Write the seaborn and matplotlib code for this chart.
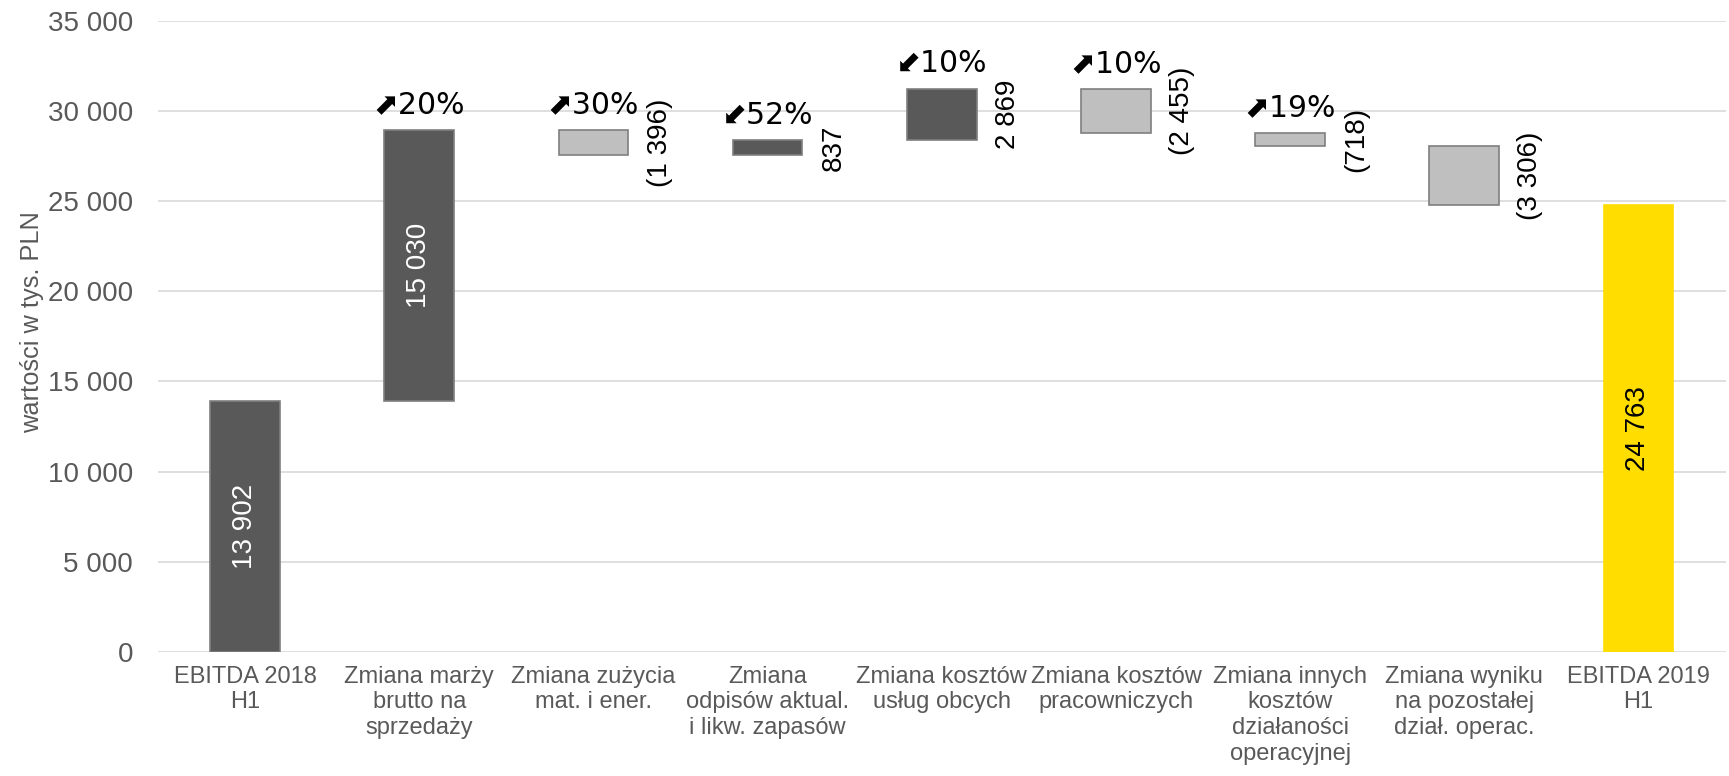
import matplotlib
matplotlib.use("Agg")
import matplotlib.pyplot as plt
import seaborn as sns
import numpy as np

# Bridge of EBITDA H1 2018 -> H1 2019 (thousand PLN)
categories = [
    "EBITDA 2018\nH1",
    "Zmiana marży\nbrutto na\nsprzedaży",
    "Zmiana zużycia\nmat. i ener.",
    "Zmiana\nodpisów aktual.\ni likw. zapasów",
    "Zmiana kosztów\nusług obcych",
    "Zmiana kosztów\npracowniczych",
    "Zmiana innych\nkosztów\ndziałaności\noperacyjnej",
    "Zmiana wyniku\nna pozostałej\ndział. operac.",
    "EBITDA 2019\nH1",
]
start_value = 13902
changes = [15030, -1396, 837, 2869, -2455, -718, -3306]
end_value = 24763
change_pct = ["20%", "30%", "52%", "10%", "10%", "19%", None]
change_dir = ["up", "up", "down", "down", "up", "up", None]
y_ticks = [0, 5000, 10000, 15000, 20000, 25000, 30000, 35000]

DARK = "#595959"
LIGHT = "#BFBFBF"
EDGE = "#7F7F7F"
YELLOW = "#FFDD00"
TEXT_GRAY = "#595959"


def fmt_pl(v):
    s = f"{abs(int(round(v))):,}".replace(",", " ")
    return f"({s})" if v < 0 else s


# floating bar extents
lows, highs, colors, edges = [], [], [], []
lows.append(0); highs.append(start_value); colors.append(DARK); edges.append(EDGE)
level = start_value
for d in changes:
    new = level + d
    lows.append(min(level, new)); highs.append(max(level, new))
    colors.append(DARK if d > 0 else LIGHT); edges.append(EDGE)
    level = new
lows.append(0); highs.append(end_value); colors.append(YELLOW); edges.append(YELLOW)

sns.set_theme(style="white")
plt.rcParams["font.family"] = ["Liberation Sans", "DejaVu Sans"]

fig = plt.figure(figsize=(17.29, 7.76), dpi=100)
ax = fig.add_axes([0.0914, 0.16, 0.9066, 0.813])

for i, cat in enumerate(categories):
    sns.barplot(
        x=[cat], y=[highs[i] - lows[i]], order=categories, bottom=lows[i],
        color=colors[i], saturation=1, width=0.4, errorbar=None,
        edgecolor=edges[i], linewidth=1.2, ax=ax, zorder=3,
    )

ax.set_xlim(-0.5, len(categories) - 0.5)
ax.set_ylim(0, 35000)
ax.set_yticks(y_ticks)
ax.set_yticklabels([fmt_pl(v) for v in y_ticks])
ax.yaxis.grid(True, color="#D9D9D9", linewidth=1.2, zorder=0)
ax.set_axisbelow(True)
for sp in ax.spines.values():
    sp.set_visible(False)
ax.tick_params(axis="y", length=0, pad=18, labelsize=20, labelcolor=TEXT_GRAY)
ax.tick_params(axis="x", length=0, pad=10, labelsize=17, labelcolor=TEXT_GRAY)
for lbl in ax.get_xticklabels():
    lbl.set_linespacing(1.22)
ax.set_xlabel("")
ax.set_ylabel("wartości w tys. PLN", fontsize=18.3, color=TEXT_GRAY, labelpad=3)
ax.yaxis.label.set_y(0.522)

# values on the opening / closing bars
ax.text(0, highs[0] / 2, fmt_pl(start_value), rotation=90, ha="center", va="center",
        fontsize=20, color="white", zorder=5)
ax.text(8, highs[8] / 2, fmt_pl(end_value), rotation=90, ha="center", va="center",
        fontsize=20, color="black", zorder=5)

arrows = {"up": "\u2b08", "down": "\u2b0b"}
for k, d in enumerate(changes):
    i = k + 1
    mid = (lows[i] + highs[i]) / 2
    if i == 1:
        ax.text(i, mid, fmt_pl(d), rotation=90, ha="center", va="center",
                fontsize=20, color="white", zorder=5)
    else:
        ax.text(i + 0.38, mid, fmt_pl(d), rotation=90, ha="center", va="center",
                fontsize=20, color="black", zorder=5)
    if change_pct[k]:
        ax.annotate(arrows[change_dir[k]] + change_pct[k], xy=(i, highs[i]),
                    xytext=(0, 12), textcoords="offset points",
                    ha="center", va="baseline", fontsize=21.5, color="black",
                    fontfamily=["DejaVu Sans"], zorder=5)

fig.savefig("out.png", dpi=100)
